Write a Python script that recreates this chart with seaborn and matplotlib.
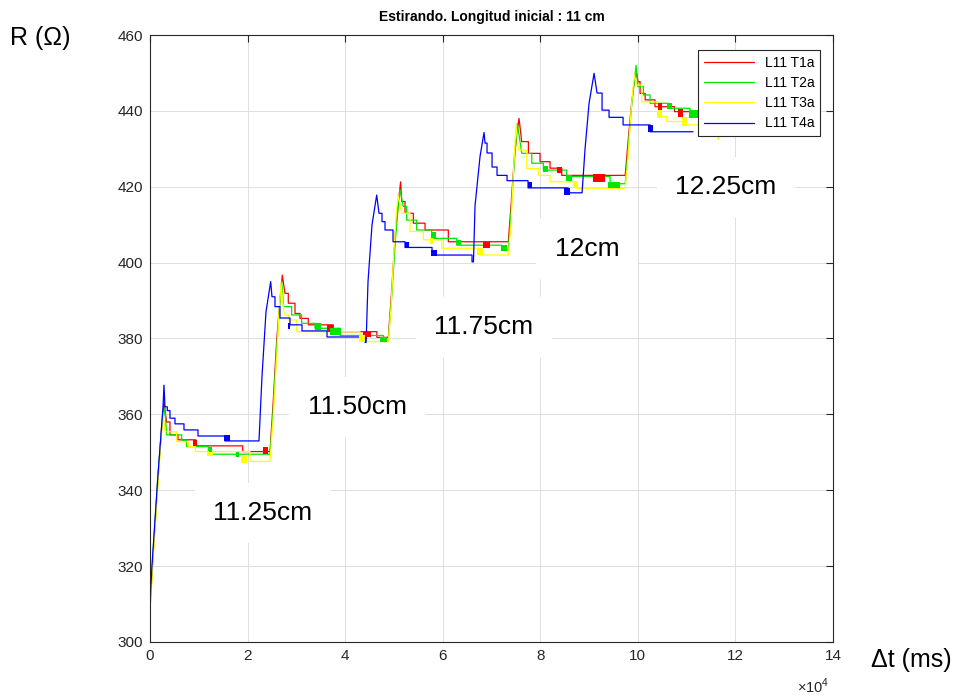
import pandas as pd
import seaborn as sns
import matplotlib.pyplot as plt
from matplotlib.lines import Line2D

## data (t in ms, R in ohm)
series_names = ["L11 T1a", "L11 T2a", "L11 T3a", "L11 T4a"]
series_colors = ["#ff0000", "#00e600", "#ffff00", "#0000ff"]

t_T1a = [0, 600, 1640, 2460, 2870, 3400, 4100, 4100, 5740, 5740, 9400, 9400, 19000, 19000, 24600,
         25200, 26000, 26700, 27120, 27675, 28350, 28350, 29725, 29725, 30750, 30750, 32450, 32450,
         37575, 37575, 46500, 46500, 48850,
         49500, 50300, 51000, 51370, 51600, 52275, 52275, 53980, 53980, 56375, 56375, 61150, 61150, 73450,
         74000, 74700, 75300, 75650, 76190, 77560, 77560, 79950, 79950, 82000, 82000, 84400, 84400, 97400,
         98000, 98700, 99300, 99770, 100000, 100450, 100450, 101500, 101500, 103500, 103500, 107500,
         107500, 112500]
R_T1a = [308.5, 322, 343, 358, 363.3, 358, 358, 354.6, 354.6, 353.3, 353.3, 351.7, 351.7, 350.2, 350.2,
         362, 380, 391, 396.7, 391.9, 391.9, 389.3, 389.3, 386.6, 386.6, 385.3, 385.3, 383.6,
         383.6, 381.8, 381.8, 380.3, 380.3,
         392, 408, 417, 421.3, 416.1, 416.1, 413, 413, 410.4, 410.4, 408.6, 408.6, 405.5, 405.5,
         415, 428, 435, 438, 431.9, 431.9, 428.8, 428.8, 426.6, 426.6, 424.9, 424.9, 423, 423,
         432, 442, 448, 450, 447.7, 447.7, 444.6, 444.6, 442.9, 442.9, 441.1, 441.1,
         439.8, 439.8]

t_T2a = [0, 600, 1640, 2460, 3075, 3400, 6500, 6500, 7520, 7520, 11960, 11960, 24600,
         25200, 26000, 26600, 26990, 27400, 29040, 29040, 31090, 31090, 33825, 33825, 38950, 38950,
         47830, 47830, 48850,
         49500, 50300, 50900, 51250, 51925, 52610, 52610, 54660, 54660, 57740, 57740, 62870, 62870,
         72100, 72100, 73450,
         74000, 74600, 75000, 75300, 76200, 78250, 78250, 80630, 80630, 85420, 85420, 94300, 94300, 97400,
         98000, 98700, 99200, 99630, 100000, 101130, 101130, 102500, 102500, 106250, 106250, 110700,
         110700, 114000]
R_T2a = [309.5, 323, 344, 357, 361.7, 354.6, 354.6, 353.2, 353.2, 351.5, 351.5, 349.5, 349.5,
         360, 378, 389, 395, 388.4, 388.4, 386.2, 386.2, 384, 384, 382.7, 382.7, 380.8,
         380.8, 379.2, 379.2,
         390, 406, 415, 419.2, 414.8, 414.8, 411.2, 411.2, 408.6, 408.6, 406.4, 406.4, 404.6,
         404.6, 403.3, 403.3,
         413, 425, 432, 436.7, 428.8, 428.8, 426.2, 426.2, 424.4, 424.4, 422.7, 422.7, 420.8, 420.8,
         430, 441, 447, 452, 446.4, 446.4, 444.2, 444.2, 442, 442, 440.7, 440.7,
         439.4, 439.4]

t_T3a = [0, 600, 1640, 2300, 2660, 3100, 5470, 5470, 7860, 7860, 9300, 9300, 20500, 20500, 24600,
         25300, 26000, 26500, 26850, 27500, 28400, 28400, 30070, 30070, 43050, 43050, 48850,
         49400, 50000, 50500, 50840, 51600, 53300, 53300, 56030, 56030, 59800, 59800, 67650, 67650, 73450,
         74000, 74500, 74800, 75030, 75500, 77220, 77220, 79600, 79600, 82000, 82000, 87470, 87470, 97400,
         98000, 98600, 99000, 99280, 99770, 100800, 100800, 104200, 104200, 105920, 105920, 109320,
         109320, 116400, 116400, 116600, 116600, 117500]
R_T3a = [307.6, 321, 341, 354, 360.5, 355.4, 355.4, 352.8, 352.8, 351.5, 351.5, 350.2, 350.2, 347.6, 347.6,
         360, 376, 388, 394.6, 386.2, 386.2, 384.9, 384.9, 381.8, 381.8, 379.2, 379.2,
         388, 403, 413, 417.8, 413, 413, 408.2, 408.2, 406, 406, 403.8, 403.8, 402, 402,
         410, 424, 431, 436.3, 429.7, 429.7, 424.8, 424.8, 423, 423, 421.3, 421.3, 419.6, 419.6,
         428, 440, 446, 449.5, 446.8, 446.8, 442.4, 442.4, 438.5, 438.5, 437.2, 437.2,
         436.3, 436.3, 432.5, 432.5, 436.3, 436.3]

t_T4a = [0, 410, 1640, 2665, 2870, 3075, 3550, 3550, 4100, 4100, 5125, 5125, 6970, 6970, 9840, 9840,
         15375, 15375, 22345,
         22960, 23780, 24740, 25010, 25625, 25625, 26650, 26650, 28700, 28700, 31160, 31160, 36285,
         36285, 44075, 44075, 44300,
         44690, 45510, 46470, 46945, 47560, 47560, 48175, 48175, 49815, 49815, 52275, 52275, 57810,
         57810, 66010, 66010, 66300,
         66625, 67650, 68470, 68675, 69085, 69085, 70110, 70110, 71135, 71135, 73185, 73185, 77490,
         77490, 85690, 85690, 88560,
         89175, 89995, 91020, 91635, 92660, 92660, 94095, 94095, 96965, 96965, 102500, 102500, 111315]
R_T4a = [310, 320, 344, 361.7, 367.7, 362, 362, 361, 361, 359, 359, 357.5, 357.5, 355.9, 355.9, 354.3,
         354.3, 353, 353,
         370, 387, 395, 391, 391, 388.4, 388.4, 385.4, 385.4, 383.6, 383.6, 382, 382,
         380.4, 380.4, 379, 379,
         395, 410, 417.8, 413, 413, 410.8, 410.8, 408.6, 408.6, 405.5, 405.5, 404, 404,
         402, 402, 400.2, 400.2,
         415, 428, 434.3, 431.5, 431.5, 428.9, 428.9, 425.2, 425.2, 423, 423, 421.6, 421.6,
         419.7, 419.7, 418.4, 418.4,
         430, 442, 449.9, 444.7, 444.7, 440.2, 440.2, 438.3, 438.3, 436.3, 436.3, 434.5, 434.5]

# noisy bursts where the signal flickers between two levels (t0, t1, low, high)
bursts_T1a = [(8800, 9600, 351.7, 353.3), (23200, 24200, 349.5, 351.5), (36300, 37500, 381.8, 383.6),
              (43700, 45400, 380.3, 381.8), (68300, 69700, 403.8, 405.5), (83350, 84550, 423.5, 425.3),
              (90800, 93300, 421.3, 423.3), (104200, 105000, 440.2, 442), (108200, 109300, 438.3, 440.4)]
bursts_T2a = [(12100, 12700, 350, 351.5), (17700, 18300, 348.8, 350.2), (33800, 35000, 382.3, 384),
              (37000, 39200, 381, 382.7), (47200, 48500, 379, 380.5), (57700, 58600, 406.4, 408),
              (62900, 63800, 404.6, 406), (72000, 73200, 403, 404.6), (80600, 81600, 424, 425.5),
              (85300, 86500, 421.5, 423), (93900, 96350, 419.6, 421.3), (106000, 107000, 440.5, 442),
              (110500, 112350, 438, 440.2)]
bursts_T3a = [(11600, 13000, 348.9, 350.2), (18600, 19800, 347.3, 349), (42800, 44000, 379, 381),
              (57400, 58000, 405, 406.5), (67000, 68300, 402, 403.8), (86800, 87800, 419.6, 421.3),
              (103900, 104900, 438, 440.2), (109000, 110100, 436.1, 438.3)]
bursts_T4a = [(15200, 16400, 353, 354.6), (28300, 28800, 382.5, 384), (52300, 53100, 404, 405.5),
              (57600, 58800, 401.8, 403.3), (77400, 78200, 419.7, 421.3), (84900, 86100, 417.8, 419.7),
              (102100, 103200, 434.5, 436.3)]

# length annotations
label_texts = ["11.25cm", "11.50cm", "11.75cm", "12cm", "12.25cm"]
label_t = [23165, 42435, 68470, 89585, 118080]
label_R = [334, 361.9, 383, 403.6, 419.9]

x_ticks = [0, 20000, 40000, 60000, 80000, 100000, 120000, 140000]
y_ticks = [300, 320, 340, 360, 380, 400, 420, 440, 460]

## build long table
frames = []
for name, tt, rr in zip(series_names, [t_T1a, t_T2a, t_T3a, t_T4a], [R_T1a, R_T2a, R_T3a, R_T4a]):
    frames.append(pd.DataFrame({"t": tt, "R": rr, "serie": name}))
df = pd.concat(frames, ignore_index=True)

sns.set_style("whitegrid")
plt.rcParams["font.family"] = ["Liberation Sans", "DejaVu Sans"]
plt.rcParams["mathtext.fontset"] = "custom"
plt.rcParams["mathtext.rm"] = "Liberation Sans"

fig = plt.figure(figsize=(9.54, 6.96), dpi=100)
ax = fig.add_axes([0.1572, 0.0776, 0.716, 0.8721])

palette = dict(zip(series_names, series_colors))
sns.lineplot(data=df, x="t", y="R", hue="serie", hue_order=series_names, palette=palette,
             sort=False, estimator=None, lw=0.9, legend=False, ax=ax)

for name, bursts in zip(series_names, [bursts_T1a, bursts_T2a, bursts_T3a, bursts_T4a]):
    for t0, t1, lo, hi in bursts:
        ax.fill_between([t0, t1], lo, hi, color=palette[name], lw=0, zorder=2)

for txt, tx, ry in zip(label_texts, label_t, label_R):
    ax.text(tx, ry, txt, fontsize=19, ha="center", va="center", zorder=3, color="black",
            bbox=dict(boxstyle="square,pad=0.7", fc="white", ec="none"))

## axes styling (matlab look)
ax.set_xlim(0, 140000)
ax.set_ylim(300, 460)
ax.set_xticks(x_ticks)
ax.set_xticklabels([str(int(v / 10000)) for v in x_ticks])
ax.set_yticks(y_ticks)
ax.set_xlabel("")
ax.set_ylabel("")
ax.grid(True, color="#dedede", lw=0.7)
ax.set_axisbelow(True)
for sp in ax.spines.values():
    sp.set_color("#262626")
    sp.set_linewidth(0.8)
ax.tick_params(direction="in", length=5, width=0.8, color="#262626", top=True, right=True,
               labelsize=11, labelcolor="#262626", pad=5)

ax.set_title("Estirando. Longitud inicial : 11 cm", fontsize=10, fontweight="bold", pad=10, color="black")

handles = [Line2D([0], [0], color=c, lw=0.9) for c in series_colors]
leg = ax.legend(handles, series_names, loc="upper right", bbox_to_anchor=(0.981, 0.975),
                fontsize=10, handlelength=3.6, labelspacing=0.45, borderaxespad=0,
                fancybox=False, framealpha=1, edgecolor="#262626", labelcolor="black")
leg.get_frame().set_linewidth(0.8)

fig.text(40 / 954, 1 - 38 / 696, "R (Ω)", fontsize=18, ha="center", va="center", color="black")
fig.text(911 / 954, 1 - 660 / 696, "Δt (ms)", fontsize=18, ha="center", va="center", color="black")
fig.text(813 / 954, 1 - 686 / 696, r"$\times10^{4}$", fontsize=10.5, ha="center", va="center", color="#262626")

fig.savefig("out.png", dpi=100)
